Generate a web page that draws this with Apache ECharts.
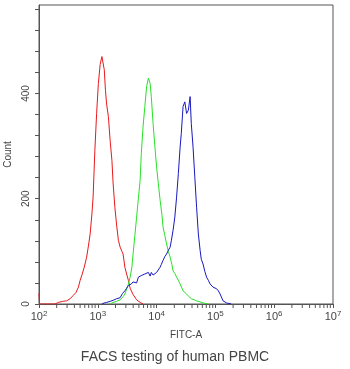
<!DOCTYPE html>
<html>
<head>
<meta charset="utf-8">
<script src="https://cdn.jsdelivr.net/npm/echarts@6/dist/echarts.min.js"></script>
<style>html,body{margin:0;padding:0;background:#fff;}#c{width:350px;height:369px;}</style>
</head>
<body>
<div id="c"></div>
<script>
// x positions given as log10(FITC-A), y as Count
var redX = [2.0, 2.01, 2.27, 2.33, 2.40, 2.47, 2.53, 2.58, 2.63, 2.67, 2.70, 2.73, 2.77, 2.81, 2.84, 2.87, 2.90, 2.92, 2.95, 2.98, 3.01, 3.04, 3.07, 3.09, 3.11, 3.13, 3.15, 3.18, 3.21, 3.24, 3.26, 3.29, 3.32, 3.35, 3.38, 3.41, 3.43, 3.46, 3.49, 3.52, 3.55, 3.60, 3.66, 3.72, 3.77];
var redY = [20, 0, 0, 3, 5, 6, 10, 16, 22, 32, 45, 55, 70, 89, 110, 133, 171, 203, 292, 362, 419, 455, 470, 468, 445, 406, 380, 356, 310, 273, 230, 184, 150, 121, 108, 100, 95, 70, 57, 45, 30, 18, 8, 3, 0];
var greenX = [3.21, 3.26, 3.32, 3.38, 3.43, 3.46, 3.49, 3.52, 3.55, 3.58, 3.60, 3.63, 3.66, 3.69, 3.72, 3.74, 3.77, 3.80, 3.83, 3.86, 3.89, 3.91, 3.94, 3.97, 4.00, 4.03, 4.06, 4.09, 4.11, 4.14, 4.17, 4.20, 4.23, 4.26, 4.28, 4.31, 4.34, 4.37, 4.40, 4.45, 4.51, 4.55, 4.59, 4.64, 4.68, 4.74, 4.79, 4.88];
var greenY = [0, 3, 5, 8, 14, 19, 28, 38, 51, 70, 95, 130, 165, 200, 235, 286, 337, 375, 413, 429, 419, 394, 343, 300, 260, 228, 197, 170, 146, 130, 114, 100, 89, 75, 63, 58, 51, 45, 38, 25, 19, 14, 10, 8, 6, 4, 2, 0];
var blueX = [3.07, 3.11, 3.15, 3.21, 3.26, 3.32, 3.38, 3.42, 3.46, 3.49, 3.52, 3.55, 3.57, 3.60, 3.63, 3.66, 3.69, 3.72, 3.74, 3.77, 3.80, 3.83, 3.86, 3.89, 3.91, 3.94, 3.97, 4.00, 4.03, 4.06, 4.08, 4.11, 4.14, 4.17, 4.20, 4.23, 4.25, 4.28, 4.31, 4.34, 4.37, 4.40, 4.42, 4.45, 4.48, 4.51, 4.54, 4.57, 4.59, 4.62, 4.65, 4.68, 4.71, 4.74, 4.76, 4.79, 4.82, 4.85, 4.88, 4.91, 4.96, 5.02, 5.05, 5.08, 5.13, 5.19, 5.27];
var blueY = [0, 2, 3, 5, 7, 10, 12, 20, 25, 30, 35, 33, 38, 42, 44, 40, 51, 48, 54, 52, 57, 55, 60, 53, 60, 55, 56, 60, 57, 70, 75, 83, 90, 95, 102, 108, 120, 140, 165, 203, 248, 298, 324, 375, 384, 362, 368, 394, 343, 298, 241, 184, 133, 102, 85, 76, 62, 51, 45, 38, 32, 29, 25, 19, 6, 2, 0];
var xTickExps = [2, 3, 4, 5, 6, 7];
var minorMultipliers = [2, 3, 4, 5, 6, 7, 8, 9];
var yTickLabels = [0, 200, 400];

function pairs(xs, ys) {
  return xs.map(function (e, i) { return [Math.pow(10, e), ys[i]]; });
}
var minorTickData = [];
xTickExps.slice(0, -1).forEach(function (e) {
  minorMultipliers.forEach(function (m) { minorTickData.push([m * Math.pow(10, e), 0]); });
});

var chart = echarts.init(document.getElementById('c'), null, {renderer: 'canvas'});
var axisColor = '#555';
var textColor = '#444';
var font = 'Liberation Sans, Arial, sans-serif';

chart.setOption({
  animation: false,
  backgroundColor: '#fff',
  grid: {left: 39, right: 17, top: 5, bottom: 65, show: true, borderColor: axisColor, borderWidth: 1, outerBoundsMode: 'none', containLabel: false},
  xAxis: {
    type: 'log',
    logBase: 10,
    min: 100,
    max: 10000000,
    name: 'FITC-A',
    nameLocation: 'middle',
    nameGap: 26,
    nameTextStyle: {color: textColor, fontSize: 10, fontFamily: font},
    axisLine: {show: true, lineStyle: {color: axisColor}},
    axisTick: {show: true, length: 4, lineStyle: {color: axisColor}},
    minorTick: {show: false},
    splitLine: {show: false},
    axisLabel: {
      color: textColor,
      fontFamily: font,
      fontSize: 11,
      margin: 6,
      formatter: function (v) {
        var e = Math.round(Math.log10(v));
        return xTickExps.indexOf(e) >= 0 ? '10{s|' + e + '}' : '';
      },
      rich: {s: {fontSize: 8, verticalAlign: 'top', padding: [0, 0, 6, 0], color: textColor, fontFamily: font}}
    }
  },
  yAxis: {
    type: 'value',
    min: 0,
    max: 568,
    interval: 40,
    name: 'Count',
    nameLocation: 'middle',
    nameGap: 25,
    nameRotate: 90,
    nameTextStyle: {color: textColor, fontSize: 10, fontFamily: font},
    axisLine: {show: true, lineStyle: {color: axisColor}},
    axisTick: {show: true, length: 4, lineStyle: {color: axisColor}},
    splitLine: {show: false},
    axisLabel: {
      color: textColor,
      fontFamily: font,
      fontSize: 10,
      rotate: 90,
      margin: 8,
      showMaxLabel: false,
      formatter: function (v) { return yTickLabels.indexOf(v) >= 0 ? String(v) : ''; }
    }
  },
  graphic: [{
    type: 'text',
    left: 'center',
    top: 350,
    style: {text: 'FACS testing of human PBMC', fill: textColor, font: '14px ' + font}
  }],
  series: [
    {
      type: 'custom',
      silent: true,
      clip: false,
      data: minorTickData,
      renderItem: function (params, api) {
        var p = api.coord([api.value(0), 0]);
        return {type: 'line', shape: {x1: p[0], y1: p[1], x2: p[0], y2: p[1] + 4}, style: {stroke: axisColor, lineWidth: 1}};
      },
      z: 1
    },
    {type: 'line', data: pairs(redX, redY), showSymbol: false, lineStyle: {color: '#e8191c', width: 1}, z: 3},
    {type: 'line', data: pairs(greenX, greenY), showSymbol: false, lineStyle: {color: '#28e028', width: 1}, z: 4},
    {type: 'line', data: pairs(blueX, blueY), showSymbol: false, lineStyle: {color: '#1818c0', width: 1}, z: 5}
  ]
});
</script>
</body>
</html>
